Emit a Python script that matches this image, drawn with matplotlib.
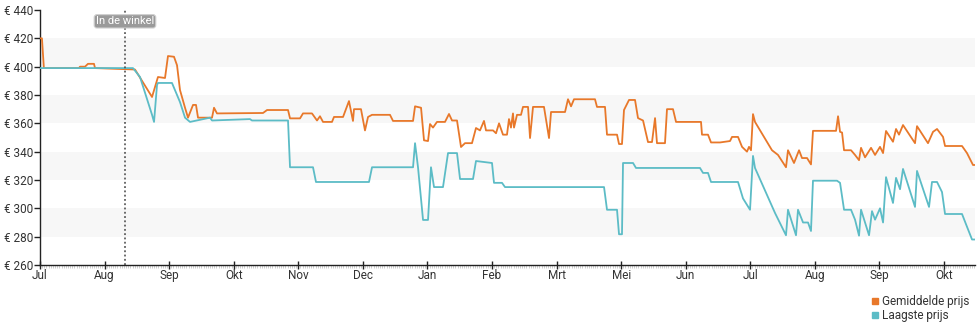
import matplotlib.pyplot as plt
import numpy as np

plt.rcParams['font.family'] = ['Roboto', 'DejaVu Sans']

# x in months since the first of July, y in euro
avg_x = [0, 0.03, 0.06, 0.604, 0.619, 0.697, 0.743, 0.836, 0.852, 1.471, 1.735, 1.827, 1.936,
         1.982, 2.075, 2.122, 2.168, 2.246, 2.292, 2.370, 2.416, 2.447, 2.664, 2.695, 2.741,
         3.454, 3.516, 3.841, 3.872, 4.027, 4.073, 4.212, 4.290, 4.336, 4.383, 4.522, 4.553,
         4.693, 4.785, 4.847, 4.863, 4.971, 5.033, 5.080, 5.142, 5.420, 5.467, 5.777, 5.808,
         5.901, 5.947, 6.009, 6.040, 6.086, 6.148, 6.272, 6.334, 6.381, 6.458, 6.520, 6.582,
         6.690, 6.752, 6.814, 6.876, 6.907, 7.016, 7.062, 7.109, 7.170, 7.232, 7.263, 7.294,
         7.325, 7.341, 7.387, 7.449, 7.480, 7.558, 7.589, 7.635, 7.805, 7.883, 7.914, 8.131,
         8.177, 8.224, 8.270, 8.595, 8.626, 8.750, 8.781, 8.936, 8.967, 9.013, 9.044, 9.122,
         9.215, 9.261, 9.339, 9.416, 9.478, 9.525, 9.555, 9.679, 9.710, 9.803, 9.850, 10.237,
         10.252, 10.345, 10.392, 10.531, 10.686, 10.717, 10.810, 10.872, 10.949, 10.980,
         11.011, 11.042, 11.073, 11.336, 11.429, 11.553, 11.584, 11.677, 11.755, 11.801,
         11.879, 11.940, 11.971, 12.328, 12.359, 12.390, 12.421, 12.452, 12.560, 12.622,
         12.684, 12.715, 12.777, 12.870, 12.932, 13.009, 13.056, 13.102, 13.210, 13.257,
         13.303, 13.365, 13.551, 13.582, 13.752, 13.830, 13.892, 13.985, 14.016, 14.279,
         14.356, 14.449, 14.480]
avg_y = [420, 420, 399, 399, 400, 400, 402, 402, 399, 398, 378.6, 392.7, 392,
         407.5, 407, 401, 383.5, 371, 364, 373, 373, 364, 364, 371, 367,
         367.3, 369.4, 369.4, 363.5, 363.5, 367, 367, 362, 365, 361, 361, 364.5,
         364.5, 375.7, 361.7, 370, 370, 355, 364.5, 366, 366, 361.7, 361.7, 372,
         371, 348, 347.5, 359.5, 357, 361, 361, 366.6, 362, 362, 343.3, 346,
         346, 356.7, 355, 361.7, 355, 355, 353, 360, 352, 352, 363, 357,
         367, 357, 366, 366, 371.6, 371.6, 349.6, 371.6, 371.6, 349.6, 368, 368,
         377, 372, 377, 377, 371.6, 371.6, 352, 352, 345.4, 345.4, 369.4, 376.5,
         376.5, 363.7, 362, 346.8, 346.8, 363.7, 346, 346, 370, 370, 361, 361,
         352, 352, 346.5, 346.5, 347.5, 350.4, 350.4, 343.4, 340, 343.4,
         341, 366.5, 361, 341, 337.7, 329, 341, 332, 341, 335.5,
         335.5, 331, 354.7, 354.7, 365, 354, 353.5, 341, 341, 337.7,
         334, 342.7, 336, 342.7, 337.7, 343.4, 339, 354.6, 347, 356,
         352, 358.8, 346, 358, 346, 354, 356, 350.4, 344, 344,
         339, 330.6, 330.6]

low_x = [0, 1.440, 1.549, 1.735, 1.766, 1.812, 1.827, 2.044, 2.168, 2.246, 2.323, 2.478,
         2.633, 2.664, 3.252, 3.283, 3.841, 3.872, 4.228, 4.274, 5.095, 5.142, 5.777, 5.808,
         5.854, 5.932, 6.009, 6.055, 6.102, 6.241, 6.319, 6.458, 6.505, 6.706, 6.752, 7.000,
         7.031, 7.155, 7.201, 8.735, 8.781, 8.936, 8.967, 9.013, 9.029, 9.184, 9.230, 10.221,
         10.268, 10.345, 10.392, 10.810, 10.887, 10.996, 11.042, 11.073, 11.383, 11.553,
         11.584, 11.708, 11.739, 11.817, 11.894, 11.940, 11.971, 12.343, 12.390, 12.452,
         12.560, 12.622, 12.684, 12.715, 12.839, 12.885, 12.932, 13.009, 13.056, 13.102,
         13.210, 13.257, 13.319, 13.365, 13.551, 13.582, 13.768, 13.814, 13.892, 13.969,
         14.016, 14.279, 14.356, 14.434, 14.480]
low_y = [399, 399, 392.7, 366, 361, 387, 388.5, 388.5, 375, 364, 361, 362.5,
         364, 362, 363, 362, 362, 329, 329, 318.6, 318.6, 329, 329, 346,
         329, 291.8, 291.8, 329, 315, 315, 339, 339, 320.7, 320.7, 333.4, 332,
         318, 318, 315, 315, 299, 299, 281.7, 281.7, 332, 332, 328.5, 328.5,
         325, 325, 318.6, 318.6, 307, 299, 337, 328.5, 296.7, 281,
         299, 281, 299, 290, 290, 284, 319.5, 319.5, 318, 299,
         299, 292, 280.7, 299, 281, 298, 292, 300, 290, 322,
         303.8, 321.5, 313.5, 327.8, 301, 326.4, 301, 318.6, 318.6, 311.5,
         296, 296, 287, 278, 278]

month_labels = ['Jul', 'Aug', 'Sep', 'Okt', 'Nov', 'Dec', 'Jan', 'Feb', 'Mrt',
                'Mei', 'Jun', 'Jul', 'Aug', 'Sep', 'Okt']
in_store = 1.316

orange = '#e8782a'
teal = '#5cbcc6'
text_col = '#333333'

fig = plt.figure(figsize=(9.8, 3.25), dpi=100)
ax = fig.add_axes([40 / 980, 1 - 265 / 325, 935 / 980, 255 / 325])

# alternating grey bands
for lo in [280, 320, 360, 400]:
    ax.axhspan(lo, lo + 20, color='#f7f7f7', lw=0, zorder=0)

ax.plot(avg_x, avg_y, color=orange, lw=1.3, label='Gemiddelde prijs', zorder=3)
ax.plot(low_x, low_y, color=teal, lw=1.3, label='Laagste prijs', zorder=3)

ax.axvline(in_store, color='#444444', lw=1.1, ls=(0, (1.2, 1.6)), zorder=4)
ax.text(in_store, 432, 'In de winkel', ha='center', va='center', fontsize=8, color='white',
        bbox=dict(boxstyle='round,pad=0.15,rounding_size=0.25', fc='#9a9a9a', ec='#cfcfcf', lw=0.8),
        zorder=5)

ax.set_xlim(0, 14.48)
ax.set_ylim(260, 440)
ax.set_xticks(range(len(month_labels)))
ax.set_xticklabels(month_labels)
ax.set_xticks(np.arange(0, 14.48, 1 / 30), minor=True)
yt = list(range(260, 441, 20))
ax.set_yticks(yt)
ax.set_yticklabels(['€ %d' % v for v in yt])

for s in ['top', 'right']:
    ax.spines[s].set_visible(False)
for s in ['left', 'bottom']:
    ax.spines[s].set_color('#222222')
    ax.spines[s].set_linewidth(1.0)

ax.tick_params(axis='y', length=4, width=1, color='#222222', labelsize=8.5, labelcolor=text_col, pad=1)
ax.tick_params(axis='x', which='major', direction='inout', length=6, width=1, color='#222222',
               labelsize=8.5, labelcolor=text_col, pad=0)
ax.tick_params(axis='x', which='minor', direction='out', length=2, width=0.5, color='#bbbbbb')

fig.legend(loc='upper right', bbox_to_anchor=(0.995, 0.11), frameon=False, fontsize=8.5,
           handlelength=0.6, handleheight=0.6, handletextpad=0.3, labelspacing=0.05,
           borderpad=0, labelcolor=text_col,
           handles=[plt.Line2D([], [], ls='', marker='s', ms=5, color=orange),
                    plt.Line2D([], [], ls='', marker='s', ms=5, color=teal)],
           labels=['Gemiddelde prijs', 'Laagste prijs'])

fig.savefig('out.png', dpi=100)
